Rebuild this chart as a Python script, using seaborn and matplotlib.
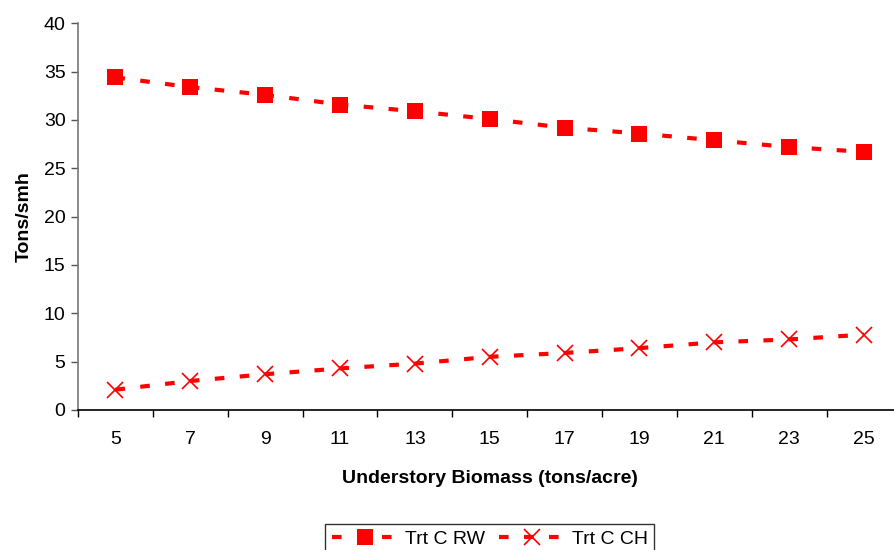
import matplotlib
matplotlib.use("Agg")
import matplotlib.pyplot as plt
import seaborn as sns
import pandas as pd
import numpy as np

biomass = [5, 7, 9, 11, 13, 15, 17, 19, 21, 23, 25]
trt_c_rw = [34.4, 33.4, 32.6, 31.6, 30.9, 30.1, 29.2, 28.6, 27.9, 27.2, 26.7]
trt_c_ch = [2.1, 3.0, 3.7, 4.3, 4.8, 5.5, 5.9, 6.4, 7.0, 7.3, 7.8]
series_names = ["Trt C RW", "Trt C CH"]
y_ticks = [0, 5, 10, 15, 20, 25, 30, 35, 40]

sns.set_theme(style="white")
plt.rcParams['font.family'] = ['Liberation Sans', 'DejaVu Sans']
plt.rcParams['text.color'] = 'black'
plt.rcParams['axes.labelcolor'] = 'black'
plt.rcParams['xtick.color'] = 'black'
plt.rcParams['ytick.color'] = 'black'

df = pd.DataFrame({
    "x": biomass * 2,
    "y": trt_c_rw + trt_c_ch,
    "series": [series_names[0]] * len(biomass) + [series_names[1]] * len(biomass),
})

fig = plt.figure(figsize=(8.94, 5.5), dpi=100)
ax = fig.add_axes([78 / 894, 1 - 410 / 550, (901.5 - 78) / 894, (410 - 23.3) / 550])

red = "#FF0000"
dash = (2.3, 3.7)
sns.lineplot(data=df[df.series == series_names[0]], x="x", y="y", ax=ax,
             color=red, linewidth=3, marker="s", markersize=11,
             markeredgewidth=0, label=series_names[0])
sns.lineplot(data=df[df.series == series_names[1]], x="x", y="y", ax=ax,
             color=red, linewidth=3, marker="x", markersize=12,
             markeredgewidth=1.2, markeredgecolor=red, label=series_names[1])
for ln in ax.lines:
    ln.set_dashes(dash)

fs = 14
ax.set_xlim(4, 26)
ax.set_ylim(0, 40)
ax.set_yticks(y_ticks)
ax.set_xticks(biomass)
ax.set_xticks(np.arange(4, 27, 2), minor=True)
ax.tick_params(axis="x", which="major", length=0, pad=15, labelsize=fs, labelcolor="black")
ax.tick_params(axis="x", which="minor", length=5, width=1, direction="out", color="black", bottom=True)
ax.tick_params(axis="y", which="major", length=5, width=1, direction="out", labelsize=fs,
               left=True, color="#555555", labelcolor="black", pad=4)

for s in ["top", "right"]:
    ax.spines[s].set_visible(False)
ax.spines["left"].set_color("#777777")
ax.spines["bottom"].set_color("black")
ax.spines["left"].set_linewidth(1.2)
ax.spines["bottom"].set_linewidth(1.2)

ax.set_xlabel("Understory Biomass (tons/acre)", fontsize=fs, fontweight="bold", color="black")
ax.set_ylabel("Tons/smh", fontsize=fs, fontweight="bold", labelpad=8, color="black")
ax.xaxis.set_label_coords((490 - 78) / (901.5 - 78), -(470 - 410) / (410 - 23.3))

leg = ax.legend(loc="upper center", bbox_to_anchor=(0.548, 1 - 514 / 550),
                bbox_transform=fig.transFigure, ncol=2, frameon=True, fancybox=False,
                fontsize=fs, handlelength=3.4, columnspacing=0.7, handletextpad=0.35,
                borderpad=0.35, labelcolor="black")
leg.get_frame().set_edgecolor("black")
leg.get_frame().set_linewidth(1)
for h in leg.get_lines():
    h.set_dashes(dash)

fig.savefig("out.png", dpi=100)
